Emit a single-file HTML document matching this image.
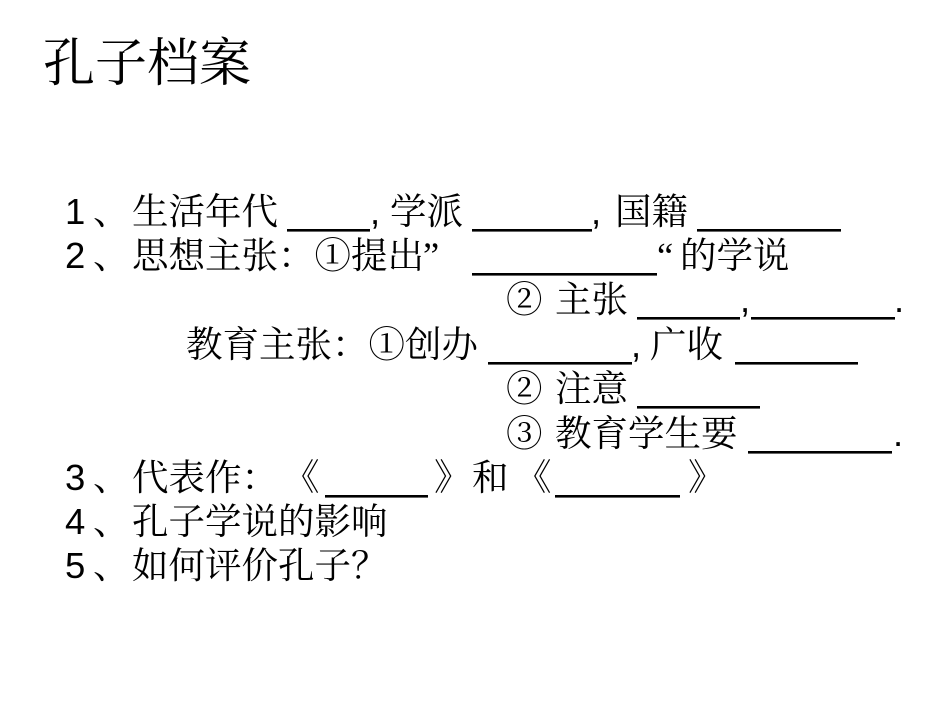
<!DOCTYPE html>
<html>
<head>
<meta charset="utf-8">
<style>
  html,body{margin:0;padding:0;background:#fff;}
  body{width:950px;height:713px;overflow:hidden;}
  svg{display:block;}
  .c{font-family:"Liberation Serif","Noto Serif CJK SC","Noto Serif CJK TC","Noto Serif CJK JP","Noto Serif CJK KR","Noto Serif SC",serif;font-size:36.5px;fill:#000;}
  .t{font-family:"Liberation Serif","Noto Serif CJK SC","Noto Serif CJK TC","Noto Serif CJK JP","Noto Serif CJK KR","Noto Serif SC",serif;font-size:52px;fill:#000;}
  .a{font-family:"Liberation Sans",sans-serif;font-size:36.5px;fill:#000;}
  .q{font-family:"Liberation Serif",serif;font-size:36.5px;fill:#000;}
</style>
</head>
<body>
<svg width="950" height="713" viewBox="0 0 950 713" xmlns="http://www.w3.org/2000/svg">
  <rect x="0" y="0" width="950" height="713" fill="#fff"/>
  <!-- Title -->
  <text class="t" x="43" y="81">孔子档案</text>

  <!-- Line 1 -->
  <text class="a" x="65" y="224">1</text>
  <text class="c" x="93" y="224">、</text>
  <text class="c" x="132" y="224">生活年代</text>
  <rect x="287" y="229" width="83" height="2.6" fill="#000"/>
  <text class="a" x="370" y="224">,</text>
  <text class="c" x="390" y="224">学派</text>
  <rect x="472" y="229" width="120" height="2.6" fill="#000"/>
  <text class="a" x="591" y="224">,</text>
  <text class="c" x="615" y="224">国籍</text>
  <rect x="697" y="229" width="144" height="2.6" fill="#000"/>

  <!-- Line 2 -->
  <text class="a" x="65" y="268">2</text>
  <text class="c" x="93" y="268">、</text>
  <text class="c" x="132" y="268">思想主张：①提出</text>
  <text class="q" x="423" y="268">”</text>
  <rect x="472" y="273" width="185" height="2.6" fill="#000"/>
  <text class="q" x="657" y="268">“</text>
  <text class="c" x="680" y="268">的学说</text>

  <!-- Line 3 -->
  <text class="c" x="506" y="312">②</text>
  <text class="c" x="555" y="312">主张</text>
  <rect x="637" y="317" width="103" height="2.6" fill="#000"/>
  <text class="a" x="740" y="312">,</text>
  <rect x="751" y="317" width="144" height="2.6" fill="#000"/>
  <text class="a" x="894" y="312">.</text>

  <!-- Line 4 -->
  <text class="c" x="186" y="357">教育主张：①创办</text>
  <rect x="488" y="362" width="144" height="2.6" fill="#000"/>
  <text class="a" x="631" y="357">,</text>
  <text class="c" x="650" y="357">广收</text>
  <rect x="735" y="362" width="123" height="2.6" fill="#000"/>

  <!-- Line 5 -->
  <text class="c" x="506" y="401">②</text>
  <text class="c" x="555" y="401">注意</text>
  <rect x="637" y="406" width="123" height="2.6" fill="#000"/>

  <!-- Line 6 -->
  <text class="c" x="506" y="446">③</text>
  <text class="c" x="555" y="446">教育学生要</text>
  <rect x="748" y="451" width="144" height="2.6" fill="#000"/>
  <text class="a" x="893" y="446">.</text>

  <!-- Line 7 -->
  <text class="a" x="65" y="490">3</text>
  <text class="c" x="93" y="490">、</text>
  <text class="c" x="132" y="490">代表作：</text>
  <text class="c" x="283" y="490">《</text>
  <rect x="325" y="495" width="103" height="2.6" fill="#000"/>
  <text class="c" x="434" y="490">》</text>
  <text class="c" x="472" y="490">和</text>
  <text class="c" x="515" y="490">《</text>
  <rect x="555" y="495" width="125" height="2.6" fill="#000"/>
  <text class="c" x="688" y="490">》</text>

  <!-- Line 8 -->
  <text class="a" x="65" y="534">4</text>
  <text class="c" x="93" y="534">、</text>
  <text class="c" x="132" y="534">孔子学说的影响</text>

  <!-- Line 9 -->
  <text class="a" x="65" y="578">5</text>
  <text class="c" x="93" y="578">、</text>
  <text class="c" x="132" y="578">如何评价孔子？</text>
</svg>
</body>
</html>
